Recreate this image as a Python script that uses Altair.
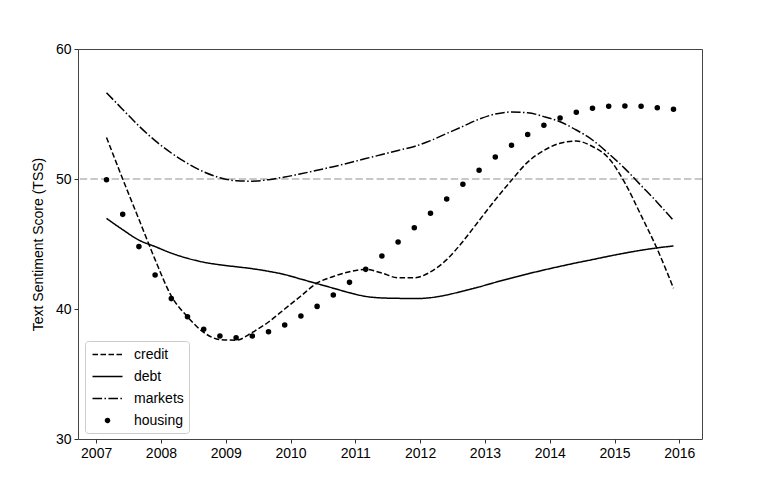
import altair as alt
import pandas as pd

years = [2007.16, 2007.41, 2007.66, 2007.91, 2008.16, 2008.41, 2008.66, 2008.91,
         2009.16, 2009.41, 2009.66, 2009.91, 2010.16, 2010.41, 2010.66, 2010.91,
         2011.16, 2011.41, 2011.66, 2011.91, 2012.16, 2012.41, 2012.66, 2012.91,
         2013.16, 2013.41, 2013.66, 2013.91, 2014.16, 2014.41, 2014.66, 2014.91,
         2015.16, 2015.41, 2015.66, 2015.91]

credit = [53.2, 50.0, 46.9, 43.8, 41.0, 39.4, 38.2, 37.65, 37.6, 38.2, 39.0, 40.0,
          41.0, 42.0, 42.5, 42.87, 43.05, 42.76, 42.4, 42.4, 42.85, 43.8, 45.2, 46.8,
          48.4, 49.9, 51.3, 52.2, 52.75, 52.92, 52.5, 51.6, 49.7, 47.2, 44.6, 41.6]

debt = [46.97, 46.1, 45.3, 44.8, 44.3, 43.9, 43.6, 43.4, 43.25, 43.1, 42.9, 42.65,
        42.3, 41.95, 41.6, 41.25, 40.97, 40.85, 40.82, 40.8, 40.87, 41.08, 41.38, 41.7,
        42.05, 42.38, 42.7, 43.0, 43.28, 43.55, 43.8, 44.06, 44.3, 44.52, 44.7, 44.85]

markets = [56.64, 55.35, 54.08, 52.95, 52.0, 51.2, 50.55, 50.1, 49.87, 49.83, 49.95, 50.15,
           50.4, 50.67, 50.95, 51.25, 51.57, 51.88, 52.2, 52.5, 52.95, 53.5, 54.05, 54.6,
           55.0, 55.15, 55.1, 54.8, 54.4, 53.77, 53.0, 51.95, 50.8, 49.5, 48.2, 46.8]

housing = [49.95, 47.28, 44.8, 42.62, 40.8, 39.4, 38.44, 37.92, 37.79, 37.92, 38.25, 38.77,
           39.46, 40.2, 41.08, 42.05, 43.05, 44.08, 45.15, 46.25, 47.36, 48.46, 49.6, 50.67,
           51.7, 52.6, 53.43, 54.13, 54.69, 55.13, 55.44, 55.59, 55.62, 55.59, 55.48, 55.36]

series_names = ["credit", "debt", "markets", "housing"]
x_ticks = [2007, 2008, 2009, 2010, 2011, 2012, 2013, 2014, 2015, 2016]
y_ticks = [30, 40, 50, 60]
ref_level = 50

rows = []
for name, vals in zip(series_names, [credit, debt, markets, housing]):
    for x, v in zip(years, vals):
        rows.append({"year": x, "tss": v, "series": name})
df = pd.DataFrame(rows)

FONT = "Liberation Sans"
line_path = "M-2,0L2,0"
dot_path = "M-0.27,0A0.27,0.27,0,1,0,0.27,0A0.27,0.27,0,1,0,-0.27,0Z"

legend = alt.Legend(
    title=None, orient="none", legendX=7, legendY=292,
    symbolSize=225, symbolStrokeWidth=1.5, symbolStrokeColor="black",
    symbolFillColor="black", symbolOpacity=1, symbolOffset=9,
    labelFontSize=14, labelFont=FONT, labelColor="black",
    strokeColor="#cccccc", fillColor="white", cornerRadius=3,
    padding=5, rowPadding=6, labelOffset=18,
)

dash_scale = alt.Scale(domain=series_names,
                       range=[[5.5, 2.5], [1, 0], [9.6, 2.4, 1.5, 2.4], [1, 0]])
shape_scale = alt.Scale(domain=series_names,
                        range=[line_path, line_path, line_path, dot_path])
stroke_scale = alt.Scale(domain=series_names,
                         range=["black", "black", "black", "black"])

x_enc = alt.X("year:Q",
              scale=alt.Scale(domain=[2006.72, 2016.35], nice=False, zero=False),
              axis=alt.Axis(values=x_ticks, format="d", title=None))
y_enc = alt.Y("tss:Q",
              scale=alt.Scale(domain=[30, 60], nice=False, zero=False),
              axis=alt.Axis(values=y_ticks, title="Text Sentiment Score (TSS)"))

ref = alt.Chart(pd.DataFrame({"level": [ref_level]})).mark_rule(
    color="#c8c8c8", strokeDash=[7.4, 3.2], strokeWidth=1.8
).encode(y=alt.datum(ref_level))

lines = alt.Chart(df).transform_filter(alt.datum.series != "housing").mark_line(
    strokeWidth=1.5, interpolate="monotone"
).encode(
    x=x_enc, y=y_enc,
    stroke=alt.Stroke("series:N", scale=stroke_scale, legend=legend),
    strokeDash=alt.StrokeDash("series:N", scale=dash_scale, legend=legend),
)

points = alt.Chart(df).transform_filter(alt.datum.series == "housing").mark_point(
    filled=True, fill="black", strokeWidth=1.5, size=225, opacity=1
).encode(
    x=x_enc, y=y_enc,
    stroke=alt.Stroke("series:N", scale=stroke_scale, legend=legend),
    shape=alt.Shape("series:N", scale=shape_scale, legend=legend),
)

chart = alt.layer(ref, lines, points).properties(
    width=624, height=390,
    autosize=alt.AutoSizeParams(type="none"),
    padding={"left": 78, "top": 49, "right": 78, "bottom": 49},
).configure_view(
    stroke="#444444", strokeWidth=1
).configure_axis(
    labelFont=FONT, labelFontSize=14, labelColor="black",
    titleFont=FONT, titleFontSize=14, titleFontWeight="normal", titleColor="black",
    grid=False, domain=False, tickColor="#333333", tickSize=4, labelPadding=3,
    titlePadding=10,
)

chart.save("out.html", embed_options={"renderer": "svg", "actions": False})
